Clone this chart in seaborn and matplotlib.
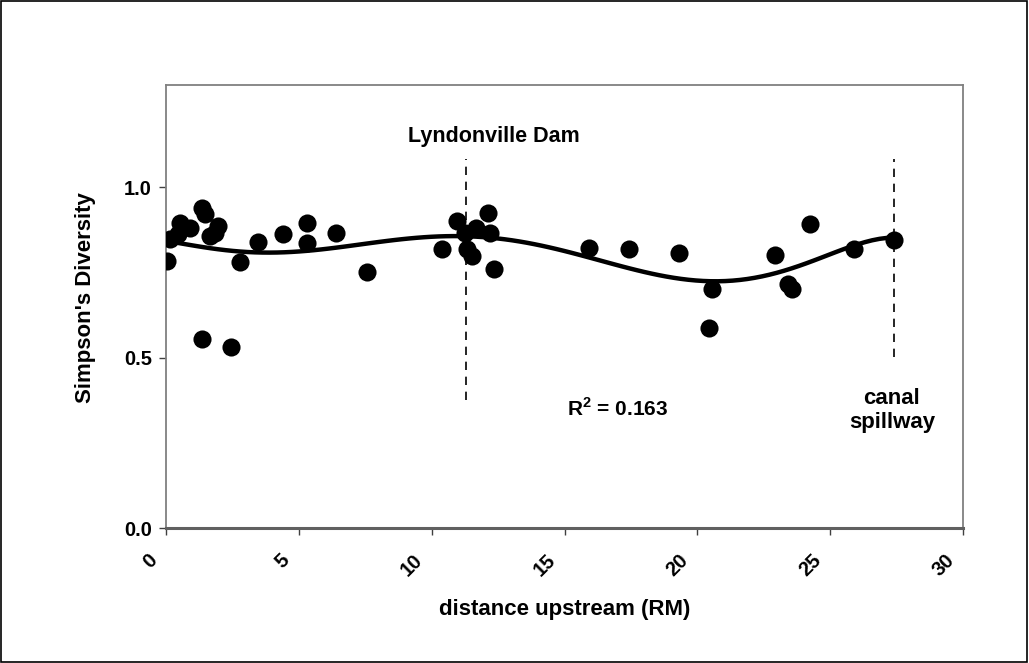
import numpy as np
import pandas as pd
import matplotlib
matplotlib.use("Agg")
import matplotlib.pyplot as plt
import matplotlib.transforms as mtransforms
import seaborn as sns
from matplotlib.patches import Rectangle

# ---- data ----
distance = [0.03, 0.15, 0.46, 0.53, 0.90, 1.34, 1.47, 1.97, 1.66, 1.84,
            1.34, 2.45, 2.79, 3.45, 4.39, 5.29, 5.29, 6.40, 7.55,
            10.38, 10.96, 12.13, 11.67, 12.19, 11.25, 11.32, 11.50, 12.34,
            15.93, 17.44, 19.32, 20.54, 20.45, 22.92, 23.42, 23.55, 24.24,
            25.91, 27.41]
diversity = [0.783, 0.847, 0.862, 0.896, 0.881, 0.940, 0.921, 0.886, 0.857, 0.867,
             0.555, 0.531, 0.780, 0.839, 0.864, 0.896, 0.837, 0.865, 0.751,
             0.820, 0.901, 0.924, 0.881, 0.867, 0.867, 0.818, 0.798, 0.759,
             0.822, 0.820, 0.806, 0.702, 0.587, 0.800, 0.715, 0.700, 0.891,
             0.820, 0.844]
x_ticks = [0, 5, 10, 15, 20, 25, 30]
y_ticks = [0.0, 0.5, 1.0]
y_tick_labels = ["0.0", "0.5", "1.0"]
dam_x = 11.3
spillway_x = 27.41
r2_text = "R$^\\mathbf{2}$ = 0.163"

df = pd.DataFrame({"distance": distance, "diversity": diversity})

sns.set_style("white")
plt.rcParams["font.family"] = ["Liberation Sans", "DejaVu Sans"]
plt.rcParams["mathtext.fontset"] = "custom"
plt.rcParams["mathtext.rm"] = "Liberation Sans:bold"
plt.rcParams["mathtext.bf"] = "Liberation Sans:bold"
plt.rcParams["text.color"] = "black"
plt.rcParams["axes.labelcolor"] = "black"
plt.rcParams["xtick.color"] = "black"
plt.rcParams["ytick.color"] = "black"

fig = plt.figure(figsize=(10.29, 6.63), dpi=100)
ax = fig.add_axes([0.1613, 0.2036, 0.7746, 0.6682])

sns.regplot(data=df, x="distance", y="diversity", order=6, ci=None, ax=ax,
            scatter_kws=dict(s=170, color="black", edgecolor="black", linewidths=0, alpha=1, zorder=3),
            line_kws=dict(color="black", lw=3.2, zorder=4))

ax.set_xlim(0, 30)
ax.set_ylim(0, 1.3)
ax.set_xticks(x_ticks)
ax.set_xticklabels([str(t) for t in x_ticks], rotation=45, ha="right", va="center",
                   rotation_mode="anchor", fontsize=14.5, fontweight="bold")
ax.set_yticks(y_ticks)
ax.set_yticklabels(y_tick_labels, fontsize=14.5, fontweight="bold")

for s in ax.spines.values():
    s.set_color("#808080")
    s.set_linewidth(1.3)
ax.spines["bottom"].set_color("#606060")
ax.spines["bottom"].set_linewidth(2.2)
ax.tick_params(axis="both", which="major", direction="out", length=5, width=1,
               color="#404040", labelcolor="black", left=True, bottom=True)
ax.tick_params(axis="y", pad=5)
ax.tick_params(axis="x", pad=16)
shift = mtransforms.ScaledTranslation(-0.12, 0, fig.dpi_scale_trans)
for lab in ax.get_xticklabels():
    lab.set_transform(lab.get_transform() + shift)

ax.set_xlabel("distance upstream (RM)", fontsize=16, fontweight="bold", color="black")
ax.set_ylabel("Simpson's Diversity", fontsize=16, fontweight="bold", color="black")
ax.xaxis.set_label_coords(0.5, -0.160)
ax.yaxis.set_label_coords(-0.088, 0.52)

# dashed reference lines
ax.plot([dam_x, dam_x], [0.376, 1.082], ls=(0, (5, 4)), color="black", lw=1.2, zorder=2)
ax.plot([spillway_x, spillway_x], [0.503, 1.082], ls=(0, (5, 4)), color="black", lw=1.2, zorder=2)

ax.text(12.34, 1.15, "Lyndonville Dam", ha="center", va="center", fontsize=15.5,
        fontweight="bold", color="black")
ax.text(17.0, 0.35, r2_text, ha="center", va="center", fontsize=15, fontweight="bold",
        color="black")
ax.text(27.32, 0.344, "canal\nspillway", ha="center", va="center", fontsize=16,
        fontweight="bold", linespacing=1.2, color="black")

# outer figure border
fig.patches.append(Rectangle((0.0005, 0.001), 0.998, 0.998, transform=fig.transFigure,
                             fill=False, edgecolor="black", lw=1.2))

fig.savefig("out.png", dpi=100)
